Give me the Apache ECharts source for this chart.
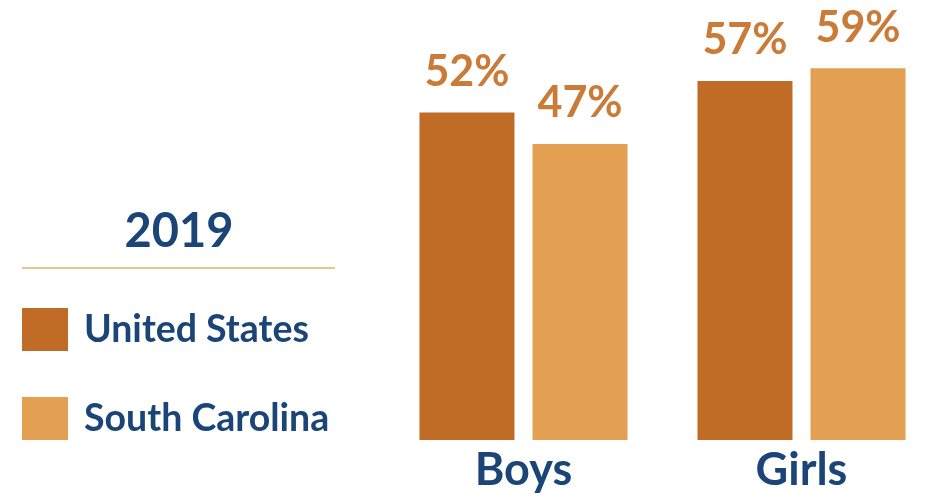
<!DOCTYPE html>
<html>
<head>
<meta charset="utf-8">
<script src="https://cdn.jsdelivr.net/npm/echarts@6/dist/echarts.min.js"></script>
<style>html,body{margin:0;padding:0;background:#fff;}#c{width:925px;height:501px;}</style>
</head>
<body>
<div id="c"></div>
<script>
var categories = ['Boys', 'Girls'];
var seriesNames = ['United States', 'South Carolina'];
var usValues = [52, 57];
var scValues = [47, 59];
var yearLabel = '2019';

var chart = echarts.init(document.getElementById('c'));
var blue = '#1b4577';
var font = 'Lato';
var labelStyle = {
  show: true, position: 'top', distance: 19,
  formatter: '{c}%', fontFamily: font, fontWeight: 'bold', fontSize: 43, color: '#c97b37'
};
chart.setOption({
  animation: false,
  backgroundColor: '#ffffff',
  grid: { left: 523.5, top: 62, right: 123.5, bottom: 61 },
  xAxis: {
    type: 'category', data: categories, boundaryGap: false,
    axisLine: { show: false }, axisTick: { show: false },
    axisLabel: { fontFamily: font, fontWeight: 'bold', fontSize: 45, color: blue, margin: 8 }
  },
  yAxis: { type: 'value', min: 0, max: 60, show: false, splitLine: { show: false } },
  legend: {
    orient: 'vertical', left: 17, top: 303, itemWidth: 46, itemHeight: 43, itemGap: 46,
    icon: 'rect',
    textStyle: { fontFamily: font, fontWeight: 'bold', fontSize: 37.5, color: blue, padding: [6, 0, 0, 11] },
    data: seriesNames
  },
  graphic: [
    { type: 'text', style: { x: 179, y: 232, text: yearLabel, textAlign: 'center', textVerticalAlign: 'middle',
        font: 'bold 47px Lato', fill: blue } },
    { type: 'line', shape: { x1: 22, y1: 268, x2: 335, y2: 268 }, style: { stroke: '#e6c794', lineWidth: 2 } }
  ],
  series: [
    { name: seriesNames[0], type: 'bar', data: usValues, barWidth: 95, barGap: '19%',
      itemStyle: { color: '#c06b26' }, label: labelStyle },
    { name: seriesNames[1], type: 'bar', data: scValues, barWidth: 95,
      itemStyle: { color: '#e4a052' }, label: labelStyle }
  ]
});
</script>
</body>
</html>
